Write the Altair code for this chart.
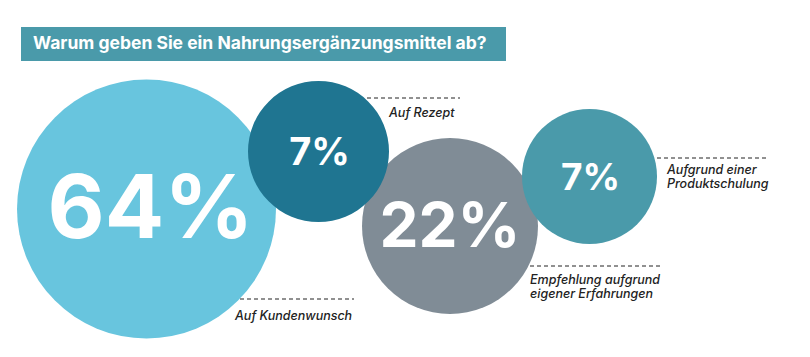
import altair as alt
import pandas as pd

# --- data ---
categories = ["Empfehlung aufgrund\neigener Erfahrungen", "Auf Kundenwunsch", "Auf Rezept", "Aufgrund einer\nProduktschulung"]
values = [22, 64, 7, 7]
colors = ["#808c96", "#68c5de", "#1f7591", "#4a9aaa"]

# layout (image pixel coordinates)
cx = [450, 146.5, 318.5, 589.5]
cy = [226, 209, 151.5, 176.5]
radius = [88, 129.5, 70.5, 67.5]
pct_size = [62, 88, 38, 37]
pct_dx = [0, 4, 1, 1]
pct_dy = [2, 3, 2, 2]
lab_x = [530, 235, 389, 667]
lab_y = [284, 320, 117, 174]
line_x1 = [530, 240, 367, 657]
line_x2 = [660, 354, 460, 768]
line_y = [266, 299, 98, 158]

title_text = "Warum geben Sie ein Nahrungsergänzungsmittel ab?"

W, H = 794, 341
df = pd.DataFrame({
    "cat": categories, "value": values, "color": colors,
    "cx": cx, "cy": cy, "r": radius,
    "pct": [f"{v}%" for v in values],
    "fs": pct_size,
    "px": [a + b for a, b in zip(cx, pct_dx)],
    "py": [a + b for a, b in zip(cy, pct_dy)],
    "lx": lab_x, "ly": lab_y,
    "x1": line_x1, "x2": line_x2, "yl": line_y,
    "order": list(range(len(values))),
})
df["area"] = (2 * df["r"]) ** 2

xs = alt.Scale(domain=[8, 8 + W], nice=False, zero=False)
ys = alt.Scale(domain=[8, 8 + H], nice=False, zero=False, reverse=True)
X = lambda f: alt.X(f, type="quantitative", scale=xs, axis=None)
Y = lambda f: alt.Y(f, type="quantitative", scale=ys, axis=None)

base = alt.Chart(df)

circles = base.mark_circle(opacity=1).encode(
    x=X("cx"), y=Y("cy"),
    size=alt.Size("area:Q", scale=None),
    color=alt.Color("color:N", scale=None),
    order=alt.Order("order:Q"),
)

pct = base.mark_text(font="Inter", fontWeight="bold", color="white",
                     align="center", baseline="middle").encode(
    x=X("px"), y=Y("py"), text="pct:N",
    size=alt.Size("fs:Q", scale=None),
)

rules = base.mark_rule(color="#222222", strokeDash=[4, 3], strokeWidth=1).encode(
    x=X("x1"), x2="x2", y=Y("yl"),
)

labels = base.mark_text(font="Inter", fontStyle="italic", fontWeight=500, fontSize=12.5,
                        color="#222222", align="left", baseline="alphabetic",
                        lineBreak="\n", lineHeight=14).encode(
    x=X("lx"), y=Y("ly"), text="cat:N",
)

tdf = pd.DataFrame({"t": [title_text], "x1": [21], "x2": [506], "y1": [27], "y2": [61],
                    "tx": [33], "ty": [44]})
tbar = alt.Chart(tdf).mark_rect(color="#4a9aaa").encode(
    x=X("x1"), x2="x2", y=Y("y1"), y2="y2",
)
ttext = alt.Chart(tdf).mark_text(font="Inter", fontWeight="bold", fontSize=17.5, color="white",
                                 align="left", baseline="middle", limit=470).encode(
    x=X("tx"), y=Y("ty"), text="t:N",
)

chart = alt.layer(tbar, ttext, circles, pct, rules, labels).properties(
    width=W, height=H, padding=0, autosize=alt.AutoSizeParams(type="none"),
    background="white",
).configure_view(stroke=None)

chart.save("out.html", embed_options={"renderer": "svg", "actions": False})
